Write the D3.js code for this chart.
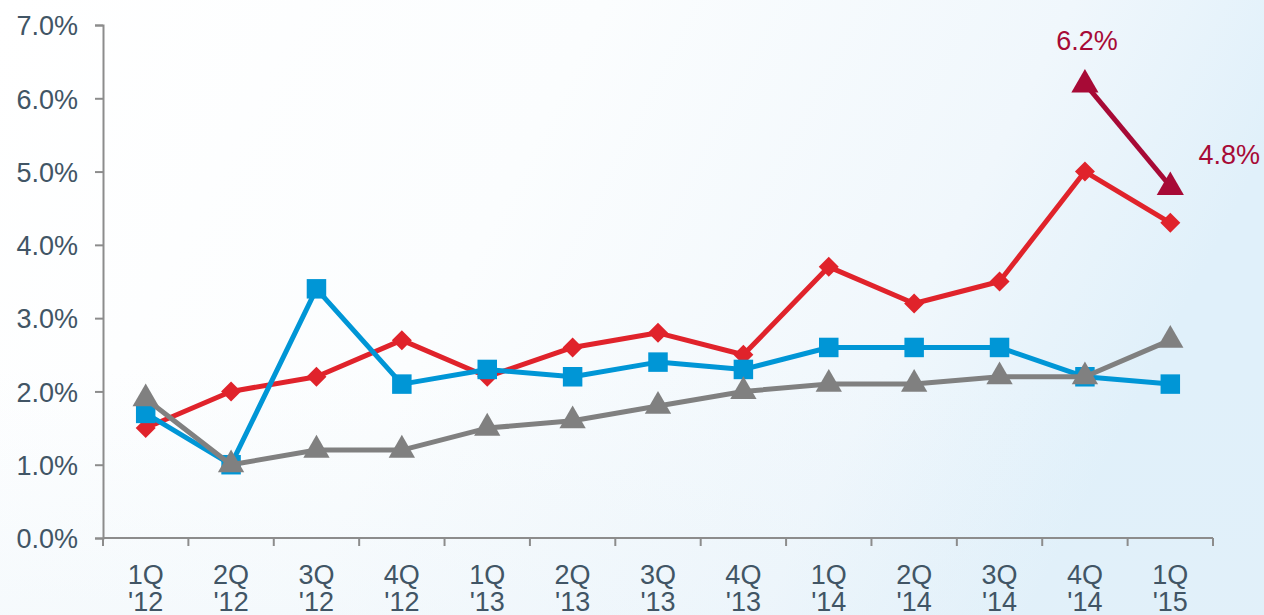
<!DOCTYPE html>
<html>
<head>
<meta charset="utf-8">
<script src="https://cdn.jsdelivr.net/npm/d3@7"></script>
<style>
  html, body { margin: 0; padding: 0; background: #fff; }
  svg { display: block; }
</style>
</head>
<body>
<svg id="chart" width="1264" height="615"></svg>
<script>
// Quarterly rates (%)
const quarters = ["1Q|'12","2Q|'12","3Q|'12","4Q|'12","1Q|'13","2Q|'13","3Q|'13","4Q|'13","1Q|'14","2Q|'14","3Q|'14","4Q|'14","1Q|'15"];
const redSeries  = [1.5, 2.0, 2.2, 2.7, 2.2, 2.6, 2.8, 2.5, 3.7, 3.2, 3.5, 5.0, 4.3];
const blueSeries = [1.7, 1.0, 3.4, 2.1, 2.3, 2.2, 2.4, 2.3, 2.6, 2.6, 2.6, 2.2, 2.1];
const graySeries = [1.9, 1.0, 1.2, 1.2, 1.5, 1.6, 1.8, 2.0, 2.1, 2.1, 2.2, 2.2, 2.7];
const highlightQuarters = ["4Q|'14", "1Q|'15"];
const highlightValues = [6.2, 4.8];
const yTicks = [0, 1, 2, 3, 4, 5, 6, 7];

const svg = d3.select("#chart");
const W = 1264, H = 615;

// background wash: white on the left fading to pale blue on the right
const defs = svg.append("defs");
const grad = defs.append("linearGradient").attr("id", "bg")
  .attr("x1", "0%").attr("y1", "0%").attr("x2", "100%").attr("y2", "25%");
grad.append("stop").attr("offset", "0%").attr("stop-color", "#ffffff");
grad.append("stop").attr("offset", "45%").attr("stop-color", "#fbfdfe");
grad.append("stop").attr("offset", "80%").attr("stop-color", "#f0f7fc");
grad.append("stop").attr("offset", "100%").attr("stop-color", "#e0f0fa");
svg.append("rect").attr("width", W).attr("height", H).attr("fill", "url(#bg)");
const vgrad = defs.append("linearGradient").attr("id", "bgv")
  .attr("x1", "0%").attr("y1", "0%").attr("x2", "0%").attr("y2", "100%");
vgrad.append("stop").attr("offset", "60%").attr("stop-color", "#e4f0f8").attr("stop-opacity", 0);
vgrad.append("stop").attr("offset", "100%").attr("stop-color", "#e4f0f8").attr("stop-opacity", 0.3);
svg.append("rect").attr("width", W).attr("height", H).attr("fill", "url(#bgv)");

const x = d3.scaleBand().domain(quarters).range([103, 1213]).paddingInner(0).paddingOuter(0);
const y = d3.scaleLinear().domain([0, 7]).range([538, 25]);
const cx = q => x(q) + x.bandwidth() / 2;

const axisColor = "#8c8c8c";
const textColor = "#415565";
const font = "Liberation Sans, Arial, sans-serif";
const fs = 27;

// y axis
const yAxis = svg.append("g").attr("transform", "translate(103,0)")
  .call(d3.axisLeft(y).tickValues(yTicks).tickSize(8).tickPadding(17)
    .tickFormat(d => d3.format(".1f")(d) + "%"));
yAxis.select(".domain").attr("stroke", axisColor).attr("stroke-width", 2);
yAxis.selectAll(".tick line").attr("stroke", axisColor).attr("stroke-width", 2);
yAxis.selectAll(".tick text").attr("fill", textColor).attr("font-family", font)
  .attr("font-size", fs).attr("dy", "0.36em");

// x axis with ticks at category boundaries
const xAxisG = svg.append("g").attr("transform", "translate(0,538)");
xAxisG.append("line").attr("x1", 103).attr("x2", 1213).attr("y1", 0).attr("y2", 0)
  .attr("stroke", axisColor).attr("stroke-width", 2);
const bounds = quarters.map(q => x(q)).concat([x.range()[1]]);
xAxisG.selectAll("line.tk").data(bounds).join("line").attr("class", "tk")
  .attr("x1", d => d).attr("x2", d => d).attr("y1", 0).attr("y2", 8)
  .attr("stroke", axisColor).attr("stroke-width", 2);
const xl = xAxisG.selectAll("text.ql").data(quarters).join("text").attr("class", "ql")
  .attr("x", d => cx(d)).attr("text-anchor", "middle")
  .attr("fill", textColor).attr("font-family", font).attr("font-size", fs);
xl.append("tspan").attr("x", d => cx(d)).attr("y", 46).text(d => d.split("|")[0]);
xl.append("tspan").attr("x", d => cx(d)).attr("y", 73).text(d => d.split("|")[1]);

const line = d3.line().x(d => cx(d.q)).y(d => y(d.v));
const pack = arr => arr.map((v, i) => ({ q: quarters[i], v }));

function drawSeries(values, color, symbolType, size, rotate) {
  const data = pack(values);
  const g = svg.append("g");
  g.append("path").datum(data).attr("d", line).attr("fill", "none")
    .attr("stroke", color).attr("stroke-width", 5).attr("stroke-linejoin", "round");
  g.selectAll("path.m").data(data).join("path").attr("class", "m")
    .attr("d", d3.symbol().type(symbolType).size(size))
    .attr("transform", d => `translate(${cx(d.q)},${y(d.v)}) rotate(${rotate})`)
    .attr("fill", color);
}

drawSeries(redSeries, "#e0232b", d3.symbolSquare, 200, 45);
drawSeries(blueSeries, "#0096d6", d3.symbolSquare, 380, 0);
drawSeries(graySeries, "#808080", d3.symbolTriangle, 300, 0);

// highlighted change
const hiColor = "#a70a36";
const hi = highlightQuarters.map((q, i) => ({ q, v: highlightValues[i] }));
svg.append("path").datum(hi).attr("d", line).attr("fill", "none")
  .attr("stroke", hiColor).attr("stroke-width", 5);
svg.selectAll("path.hm").data(hi).join("path").attr("class", "hm")
  .attr("d", d3.symbol().type(d3.symbolTriangle).size(320))
  .attr("transform", d => `translate(${cx(d.q)},${y(d.v) + 1})`)
  .attr("fill", hiColor);
svg.selectAll("text.hl").data(hi).join("text").attr("class", "hl")
  .attr("x", (d, i) => i === 0 ? cx(d.q) + 2 : cx(d.q) + 59)
  .attr("y", (d, i) => i === 0 ? y(d.v) - 34 : y(d.v) - 22)
  .attr("text-anchor", "middle")
  .attr("fill", hiColor).attr("font-family", font).attr("font-size", fs)
  .text(d => d3.format(".1f")(d.v) + "%");
</script>
</body>
</html>
